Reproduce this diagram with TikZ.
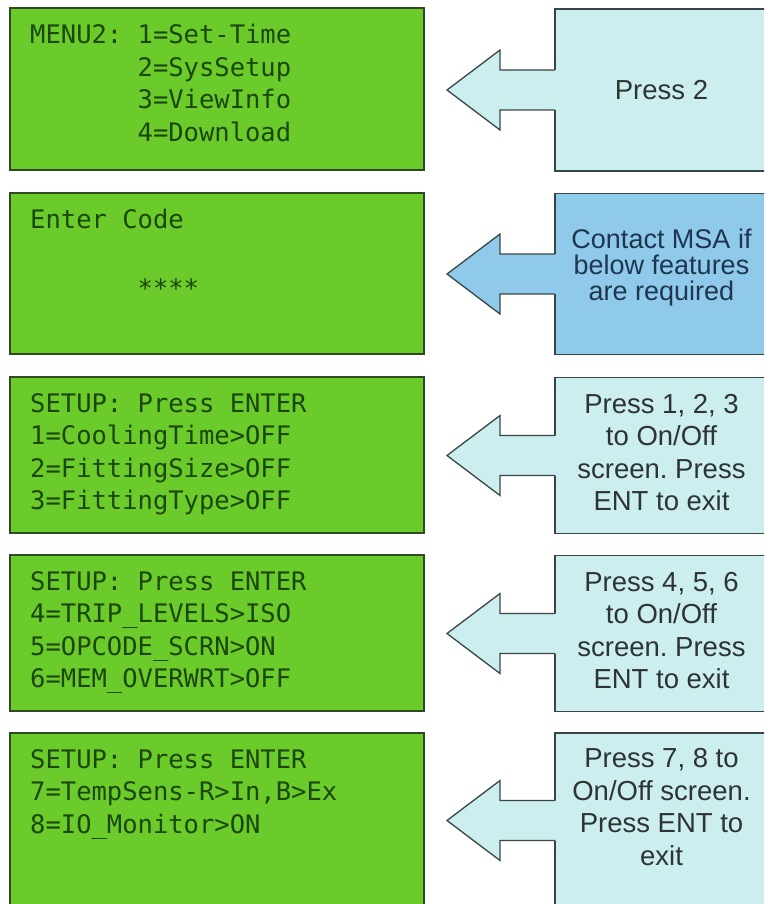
\documentclass[tikz,border=0pt]{standalone}
\usepackage{fontspec}
\setmainfont{Liberation Sans}
\newfontfamily\lcdfont{DejaVu Sans Mono}
\usetikzlibrary{positioning,calc}
\definecolor{lcdgreen}{HTML}{6BCB2B}
\definecolor{lcdedge}{HTML}{2E4A22}
\definecolor{lcdink}{HTML}{1B470B}
\definecolor{hintcyan}{HTML}{CCEEEE}
\definecolor{hintblue}{HTML}{8FCAEA}
\definecolor{hintedge}{HTML}{3A4646}
\definecolor{hintink}{HTML}{2E3333}
\definecolor{hintnavy}{HTML}{1F3550}
\tikzset{
  screen/.style = {
    draw=lcdedge, line width=1.5pt, fill=lcdgreen,
    minimum width=414pt, inner sep=0pt, outer sep=0pt
  },
  lcdtext/.style = {
    font=\lcdfont\fontsize{25.5}{32.5}\selectfont\frenchspacing,
    text=lcdink, align=left, inner sep=0pt
  },
  hint/.style = {
    draw=hintedge, line width=1.3pt, fill=hintcyan,
    minimum width=213pt, minimum height=162pt,
    inner sep=0pt, outer sep=0pt
  },
  note/.style = {
    font=\fontsize{27.5}{32.5}\selectfont\frenchspacing,
    text=hintink, align=center, inner sep=0pt
  },
  hintline/.style = {
    draw=hintedge, line width=1.3pt, line join=miter
  }
}

\begin{document}
\begin{tikzpicture}[x=1pt,y=1pt]
    \useasboundingbox (0,0) rectangle (764,-904);
    \clip (0,0) rectangle (764,-904);

    % LCD screens
    \node[screen, minimum height=162pt] (scr1) at (217,-89)    {};
    \node[screen, minimum height=161pt] (scr2) at (217,-273.5) {};
    \node[screen, minimum height=156pt] (scr3) at (217,-455)   {};
    \node[screen, minimum height=156pt] (scr4) at (217,-633)   {};
    \node[screen, minimum height=175pt] (scr5) at (217,-820.5) {};

    \node[lcdtext, below right=16pt and 20pt of scr1.north west] (menu1)
      {MENU2: 1=Set-Time\\ \phantom{MENU2:~}2=SysSetup\\ \phantom{MENU2:~}3=ViewInfo\\ \phantom{MENU2:~}4=Download};
    \node[lcdtext, below right=16pt and 20pt of scr2.north west] (menu2)
      {Enter Code\\ \strut\\ \phantom{MENU2:~}\raisebox{-4pt}{****}};
    \node[lcdtext, below right=16pt and 20pt of scr3.north west] (menu3)
      {SETUP: Press ENTER\\ 1=CoolingTime>OFF\\ 2=FittingSize>OFF\\ 3=FittingType>OFF};
    \node[lcdtext, below right=16pt and 20pt of scr4.north west] (menu4)
      {SETUP: Press ENTER\\ 4=TRIP\_LEVELS>ISO\\ 5=OPCODE\_SCRN>ON\\ 6=MEM\_OVERWRT>OFF};
    \node[lcdtext, below right=16pt and 20pt of scr5.north west] (menu5)
      {SETUP: Press ENTER\\ 7=TempSens-R>In,B>Ex\\ 8=IO\_Monitor>ON};

    % callout boxes
    \node[hint] (hint1) at (661.5,-90) {};
    \node[hint, fill=hintblue, minimum height=161pt] (hint2) at (661.5,-274) {};
    \node[hint, minimum height=156pt] (hint3) at (661.5,-455.5) {};
    \node[hint, minimum height=156pt] (hint4) at (661.5,-633.5) {};
    \node[hint, minimum height=175pt] (hint5) at (661.5,-820.5) {};

    \foreach \n/\c in {hint1/hintcyan, hint2/hintblue, hint3/hintcyan, hint4/hintcyan, hint5/hintcyan} {
      \fill[\c] ([xshift=1pt,yshift=20pt]\n.west) -- ++(-56,0) -- ++(0,20) -- ++(-53,-40)
        -- ++(53,-40) -- ++(0,20) -- ++(56,0) -- cycle;
      \draw[hintline] ([yshift=20pt]\n.west) -- ++(-55,0) -- ++(0,20) -- ++(-53,-40)
        -- ++(53,-40) -- ++(0,20) -- ++(55,0);
    }

    \node[note] (note1) at (hint1) {Press 2};
    \node[note, text=hintnavy, font=\fontsize{27}{26}\selectfont] (note2) at ([yshift=6pt]hint2)
      {Contact MSA if\\below features\\are required};
    \node[note] (note3) at ([yshift=3pt]hint3) {Press 1, 2, 3\\to On/Off\\screen. Press\\ENT to exit};
    \node[note] (note4) at ([yshift=3pt]hint4) {Press 4, 5, 6\\to On/Off\\screen. Press\\ENT to exit};
    \node[note] (note5) at ([yshift=13.5pt]hint5) {Press 7, 8 to\\On/Off screen.\\Press ENT to\\exit};
\end{tikzpicture}
\end{document}
